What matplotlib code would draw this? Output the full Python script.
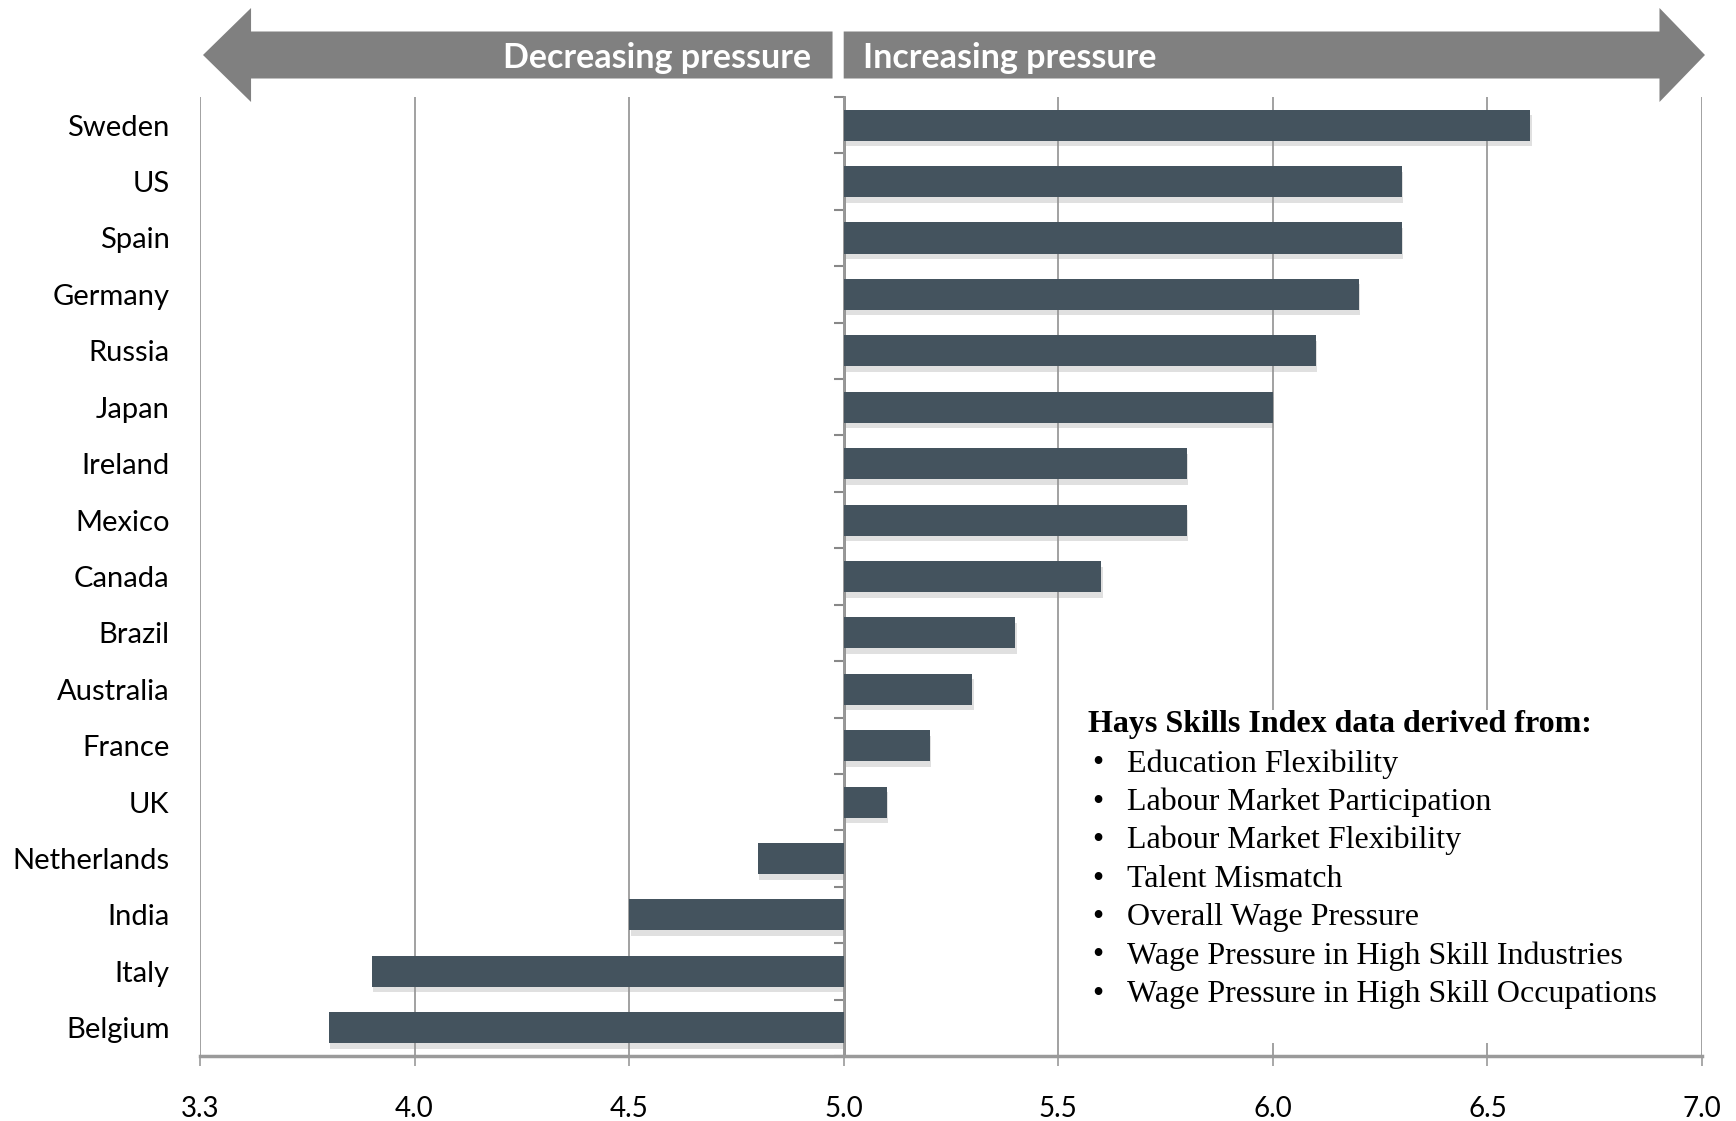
import matplotlib.pyplot as plt
from matplotlib.patches import FancyArrow, Rectangle
import matplotlib.patheffects as pe

countries = ["Sweden", "US", "Spain", "Germany", "Russia", "Japan", "Ireland",
             "Mexico", "Canada", "Brazil", "Australia", "France", "UK",
             "Netherlands", "India", "Italy", "Belgium"]
scores = [6.6, 6.3, 6.3, 6.2, 6.1, 6.0, 5.8, 5.8, 5.6, 5.4, 5.3, 5.2, 5.1,
          4.8, 4.5, 3.9, 3.8]
baseline = 5.0

xticks = [3.5, 4.0, 4.5, 5.0, 5.5, 6.0, 6.5, 7.0]
xtick_labels = ["3.3", "4.0", "4.5", "5.0", "5.5", "6.0", "6.5", "7.0"]

note_title = "Hays Skills Index data derived from:"
note_items = ["Education Flexibility", "Labour Market Participation",
              "Labour Market Flexibility", "Talent Mismatch",
              "Overall Wage Pressure", "Wage Pressure in High Skill Industries",
              "Wage Pressure in High Skill Occupations"]

bar_color = "#44535E"
grid_color = "#9A9A9A"
arrow_color = "#808080"

plt.rcParams['font.family'] = ['Lato', 'DejaVu Sans']

fig = plt.figure(figsize=(17.36, 11.21), dpi=100)
ax = fig.add_axes([0.1152, 0.058, 0.8652, 0.8555])

ypos = list(range(len(countries)))
widths = [s - baseline for s in scores]
bars = ax.barh(ypos, widths, left=baseline, height=0.55, color=bar_color, zorder=3)
for b in bars:
    b.set_path_effects([pe.SimplePatchShadow(offset=(1, -4), shadow_rgbFace="#999999", alpha=0.3),
                        pe.Normal()])

ax.set_xlim(3.5, 7.0)
ax.set_ylim(len(countries) - 0.5, -0.5)

ax.set_xticks(xticks)
ax.set_xticklabels(xtick_labels, fontsize=20)
ax.tick_params(axis='x', length=7, width=1.2, color=grid_color, pad=22)
ax.set_yticks(ypos)
ax.set_yticklabels(countries, fontsize=21)
ax.tick_params(axis='y', length=0, pad=22)

ax.grid(axis='x', color=grid_color, linewidth=1.3, zorder=0)
ax.set_axisbelow(True)
for side in ['left', 'right', 'top']:
    ax.spines[side].set_visible(False)
ax.spines['bottom'].set_color(grid_color)
ax.spines['bottom'].set_linewidth(2.5)

# vertical axis at the baseline with ticks between categories
sec = ax.secondary_yaxis((baseline - 3.5) / (7.0 - 3.5))
sec.set_yticks([i - 0.5 for i in range(len(countries) + 1)])
sec.set_yticklabels([])
sec.tick_params(length=7, width=1.5, color="#888888")
sec.spines['left'].set_color("#888888")
sec.spines['left'].set_linewidth(2)

# notes box (white background hides gridlines)
ax.add_patch(Rectangle((5.56, 10.37), 1.4, 5.9, facecolor="white", edgecolor="none", zorder=1))
tx = 5.57
ax.text(tx, 10.63, note_title, fontsize=23, fontweight='bold',
        family=['Liberation Serif'], va='center', ha='left', zorder=5)
for i, item in enumerate(note_items):
    y = 11.32 + i * 0.681
    ax.text(tx + 0.01, y, "\u2022", fontsize=23, family=['Liberation Serif'], va='center', zorder=5)
    ax.text(tx + 0.09, y, item, fontsize=23, family=['Liberation Serif'], va='center', zorder=5)

# header arrows
hx = fig.add_axes([0.1152, 1 - 102 / 1121, 0.8652, 94 / 1121])
hx.set_xlim(3.5, 7.0)
hx.set_ylim(0, 1)
hx.axis('off')
hx.add_patch(FancyArrow(4.974, 0.5, 3.507 - 4.974, 0, width=0.5, head_width=1.0,
                        head_length=0.112, length_includes_head=True,
                        color=arrow_color, lw=0, clip_on=False))
hx.add_patch(FancyArrow(5.0, 0.5, 7.007 - 5.0, 0, width=0.5, head_width=1.0,
                        head_length=0.106, length_includes_head=True,
                        color=arrow_color, lw=0, clip_on=False))
hx.text(4.925, 0.47, "Decreasing pressure", color="white", fontsize=24.5,
        fontweight='bold', ha='right', va='center')
hx.text(5.044, 0.47, "Increasing pressure", color="white", fontsize=24.5,
        fontweight='bold', ha='left', va='center')

fig.savefig("out.png", dpi=100)
